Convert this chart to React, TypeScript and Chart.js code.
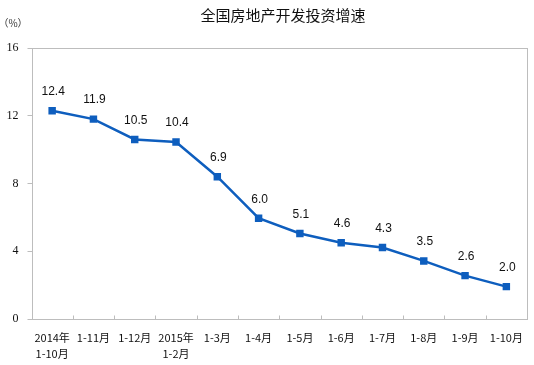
import React, { useEffect, useRef } from "react";
import { Chart, registerables } from "chart.js";

Chart.register(...registerables);

const TITLE = "全国房地产开发投资增速";
const UNIT = "（%）";
const categories: (string | string[])[] = [
  ["2014年", "1-10月"],
  "1-11月",
  "1-12月",
  ["2015年", "1-2月"],
  "1-3月",
  "1-4月",
  "1-5月",
  "1-6月",
  "1-7月",
  "1-8月",
  "1-9月",
  "1-10月",
];
// plotted positions
const values = [12.3, 11.8, 10.6, 10.45, 8.4, 5.95, 5.05, 4.5, 4.22, 3.43, 2.56, 1.91];
// printed data labels
const valueLabels = ["12.4", "11.9", "10.5", "10.4", "6.9", "6.0", "5.1", "4.6", "4.3", "3.5", "2.6", "2.0"];
const yTicks = [0, 4, 8, 12, 16];

const LINE = "#0E5EBE";
const FRAME = "#BDBDBD";

const decorPlugin = {
  id: "decor",
  afterDraw(chart: any) {
    const { ctx, chartArea } = chart;
    const xs = chart.scales.x;
    ctx.save();
    // frame
    ctx.strokeStyle = FRAME;
    ctx.lineWidth = 1;
    const l = Math.round(chartArea.left) + 0.5;
    const r = Math.round(chartArea.right) + 0.5;
    const t = Math.round(chartArea.top) + 0.5;
    const b = Math.round(chartArea.bottom) + 0.5;
    ctx.strokeRect(l, t, r - l, b - t);
    // inward category boundary ticks
    ctx.beginPath();
    for (let i = 1; i < categories.length; i++) {
      const x = Math.round((xs.getPixelForValue(i - 1) + xs.getPixelForValue(i)) / 2) + 0.5;
      ctx.moveTo(x, b);
      ctx.lineTo(x, b - 4);
    }
    ctx.stroke();
    // title
    ctx.fillStyle = "#111";
    ctx.font = "15px 'Noto Sans CJK SC'";
    ctx.textAlign = "center";
    ctx.textBaseline = "middle";
    ctx.fillText(TITLE, 283, 15);
    // unit
    ctx.font = "10px 'Noto Sans CJK SC'";
    ctx.fillStyle = "#333";
    ctx.fillText(UNIT, 13, 23);
    // data labels
    const meta = chart.getDatasetMeta(0);
    ctx.font = "12px 'Liberation Sans', Arial, sans-serif";
    ctx.fillStyle = "#111";
    meta.data.forEach((pt: any, i: number) => {
      ctx.fillText(valueLabels[i], pt.x + 1, pt.y - 19);
    });
    ctx.restore();
  },
};

export default function App() {
  const ref = useRef<HTMLCanvasElement>(null);
  useEffect(() => {
    document.body.style.margin = "0";
    const chart = new Chart(ref.current!, {
      type: "line",
      data: {
        labels: categories,
        datasets: [
          {
            data: values,
            borderColor: LINE,
            backgroundColor: LINE,
            borderWidth: 2.5,
            pointStyle: "rect",
            pointRadius: 3.5,
            pointBackgroundColor: LINE,
            pointBorderColor: LINE,
            tension: 0,
          },
        ],
      },
      options: {
        animation: false,
        responsive: true,
        maintainAspectRatio: false,
        layout: { padding: { top: 48, right: 7, left: 0, bottom: 0 } },
        plugins: { legend: { display: false }, tooltip: { enabled: false }, title: { display: false } },
        scales: {
          x: {
            offset: true,
            grid: { display: false, offset: true },
            border: { display: false },
            ticks: {
              color: "#111",
              font: { family: "'Noto Sans CJK SC'", size: 11, lineHeight: 1.45 },
              padding: 3,
              maxRotation: 0,
              autoSkip: false,
            },
            afterFit: (s: any) => {
              s.height = 46;
            },
          },
          y: {
            min: 0,
            max: 16,
            afterBuildTicks: (s: any) => {
              s.ticks = yTicks.map((v) => ({ value: v }));
            },
            grid: { drawOnChartArea: false, tickLength: 4, color: FRAME },
            border: { display: false },
            ticks: {
              color: "#111",
              font: { family: "'Liberation Serif', serif", size: 12 },
              padding: 9,
            },
            afterFit: (s: any) => {
              s.width = 31.5;
            },
          },
        },
      },
      plugins: [decorPlugin],
    });
    return () => chart.destroy();
  }, []);
  return (
    <div style={{ position: "absolute", left: 0, top: 0, width: 534, height: 365 }}>
      <canvas ref={ref} />
    </div>
  );
}
